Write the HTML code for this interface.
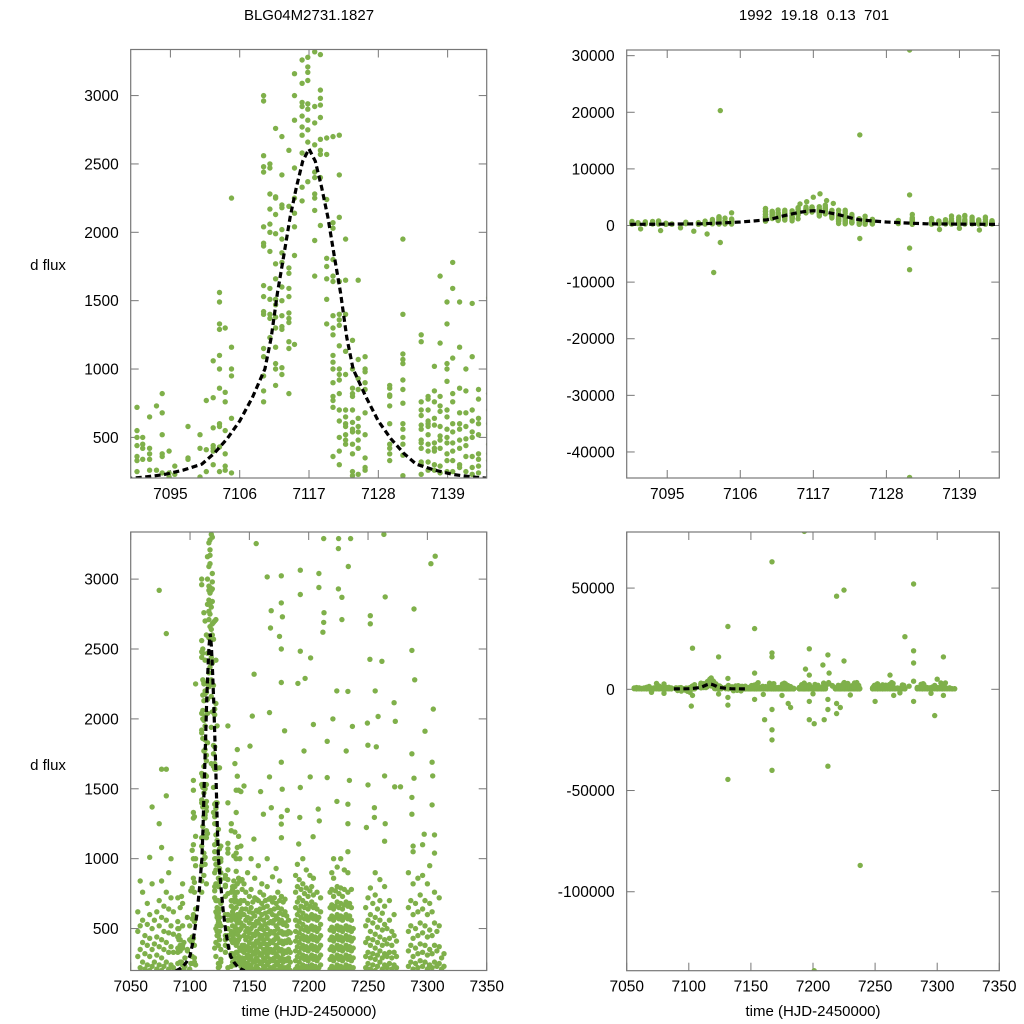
<!DOCTYPE html>
<html><head><meta charset="utf-8"><style>
html,body{margin:0;padding:0;background:#fff;width:1024px;height:1024px;overflow:hidden;}
svg{display:block;font-family:"Liberation Sans",Arial,sans-serif;}
</style></head><body>
<svg id="chart" width="1024" height="1024" viewBox="0 0 1024 1024" xmlns="http://www.w3.org/2000/svg">
<rect width="1024" height="1024" fill="#fff"/>
<text x="309" y="20" font-size="15" text-anchor="middle">BLG04M2731.1827</text>
<text x="814" y="20" font-size="15" text-anchor="middle" xml:space="preserve">1992  19.18  0.13  701</text>
<text x="48" y="270" font-size="15" text-anchor="middle">d flux</text>
<text x="48" y="770" font-size="15" text-anchor="middle">d flux</text>
<text x="309" y="1016" font-size="15" text-anchor="middle">time (HJD-2450000)</text>
<text x="813" y="1016" font-size="15" text-anchor="middle">time (HJD-2450000)</text>
<g id="plots"></g>
</svg>
<script>
// ---- model curve ----
const modelT = [7088,7091,7094,7097,7100,7102,7104,7106,7108,7110,7111,7112,7113,7114,7115,7116,7117,7118,7119,7120,7121,7122,7123,7124,7126,7128,7130,7132,7134,7137,7140,7143,7146];
const modelF = [198,210,228,260,305,385,490,620,790,1000,1230,1560,1830,2110,2330,2520,2610,2520,2330,2110,1830,1560,1230,1000,800,620,490,385,305,260,228,210,198];

// ---- observations: nights around the event ----
const peakNightT = [7089.7,7090.6,7091.7,7092.8,7093.7,7094.8,7095.7,7097.8,7099.7,7100.7,7101.8,7102.8,7103.7,7104.7,7109.8,7110.8,7111.7,7112.7,7113.8,7114.7,7115.9,7116.8,7117.9,7118.8,7119.8,7120.8,7121.8,7122.8,7123.9,7124.8,7125.9,7129.8,7131.9,7134.8,7135.9,7136.9,7137.8,7138.9,7139.8,7140.9,7141.9,7142.9,7143.9];
const peakNightF = [
[330,550,500,440,720,360,250],[500,450,420,340],[650,420,380,340,260],[730,260],[820,680,520,380,360,240],[400,210,240],[290,230],[580,350,340],[520,420,210],[770,410,250],
[1060,790,570,440,420,400,300],[1560,1490,1330,1290,1100,1000,860,600,580,430,250],[1300,830,760,550,380,290,260],[2250,1160,1000,950,640,240],
[3000,2960,2560,2480,2440,2040,1920,1900,1610,1530,1420,1400,1150,1090,950,840,760],[2500,2470,2280,2170,2060,2000,1860,1590,1510,1400,1370,1230],
[2760,2260,2250,2130,1990,1770,1660,1510,1470,1380,1300,1160,1040,1000,880],[2700,2420,2200,2180,2020,1950,1850,1780,1600,1500,1390,1310,1290,1010,960],
[2600,2190,1740,1700,1590,1530,1410,1370,1340,1200,1150,820],[3160,3000,2820,2470,2250,2140,2040,1830,1180],[3260,3090,2950,2920,2850,2770,2710,2580,2330,2230],
[3280,3210,3170,3110,2940,2900,2820,2750,2660,2370],[3320,2920,2800,2640,2440,2400,2280,2250,2160,1940,1680],[3300,3040,2980,2930,2840,2680,2600,2570,2400,2050],
[2690,2570,2240,1810,1750,1660,1510,1330],[2700,2070,2030,1800,1680,1640,1390,1300,1250,1100,1050,1000,900,800,770,720,360],
[2710,2420,2110,1640,1400,1360,1320,1170,1000,960,920,820,700,620,500,400,300],[1950,1650,1400,1130,960,700,650,600,580,520,480,450],
[1210,1000,860,820,800,700,610,560,540,450,380,250,220],[1650,1070,930,850,640,580,540,480,420,230],[1090,1000,980,900,850,680,520,350,280,260],
[880,860,810,800,730,600,450,420,380,330],[1950,1400,1110,1070,1040,920,850,750,600,560,500,450,370,220],[1250,1200,760,700,660,590,560,480,460,420,320,300,230],
[800,780,700,620,600,580,520,450,400,320,260],[1020,840,760,640,590,460,420,400,300,260],[1680,1190,800,730,690,580,510,480,420,290,240],
[1490,1330,1040,1000,910,700,650,560,500,460,380,330,250],[1780,1590,1080,820,760,600,540,460,400,330,250],[1490,1160,860,680,600,560,480,420,300,280],
[1000,840,680,580,490,440,360,250],[1480,1090,700,620,540,500,360,280,230],[850,780,640,600,520,380,340,290,240]];

// early season
const earlyNightT = [7056,7058,7060,7062,7064,7066,7068,7070,7072,7074,7076,7078,7080,7082,7084,7086];
const earlyNightF = [[300,480,620],[220,350,520,840],[260,400,560,760],[210,320,450],[240,380,530,680],[200,300,430,600,1010],[230,350,500,820,1370],[260,390,560],[210,310,440,620],[240,370,520,700,1250,2920],[200,290,420,580,840,1080,1640],[230,350,480,660],[260,400,560,760,1450,1640,2610],[210,330,470,640,900],[240,370,520,720,1000],[220,330,460,620]];

// second block
const blockANightT = [7145.5,7147,7148.5,7150,7151.5,7153,7154.5,7156,7157.5,7159,7160.5,7162,7163.5,7165,7166.5,7168,7169.5,7171,7172.5,7174,7175.5,7177,7178.5,7180,7181.5,7183,7184.5];
const blockANightF = [[210,260,330,380,450,520,600,700,820],[230,290,350,420,480,560,640,760],[200,250,310,370,440,500,580,680,900],[220,280,340,400,470,540,620,730],[240,300,360,430,500,570,650,780,1000],[210,270,330,390,460,530,610,690],[200,260,320,380,450,520,590,720,860],[230,290,350,410,480,550,630,710],[210,270,330,400,460,540,620,700,950],[250,310,370,430,500,570,640,760],[200,260,320,390,450,520,600,680,820],[230,290,350,420,490,560,650,740],[210,270,330,390,460,530,610,700],[240,300,360,430,500,580,660,800,1000],[200,260,330,390,460,540,620,710],[220,280,350,410,480,550,630,720],[210,270,330,400,470,540,600,690,870],[230,290,350,420,480,560,640,720],[200,260,320,380,450,520,590,680,930],[240,300,360,430,500,570,650,760],[210,270,340,400,470,540,610,700,840],[230,290,350,410,480,560,640,730,1150,1300],[200,260,320,390,460,530,600,690],[220,280,340,410,470,540,620,710],[210,270,330,400,460,520,590],[230,290,350,420,480,560],[200,260,330,400,470]];

const blockBNightT = [7189,7190.5,7192,7193.5,7195,7196.5,7198,7199.5,7201,7202.5,7204,7205.5,7207,7208.5,7210];
const blockBNightF = [[210,270,340,410,480,560,650,760,880],[230,300,370,440,520,600,690,800,960],[200,260,330,400,470,550,630,720,850],[220,290,360,430,500,580,660,780],[240,310,380,450,530,610,700,820,1000],[210,280,350,420,490,570,650,750],[230,300,370,440,510,590,680,790,920],[200,270,340,410,480,560,640,730],[220,290,360,430,500,580,660,770,880],[240,310,380,450,520,600,690,800],[210,280,350,420,490,570,650,740,860],[230,300,370,440,510,590,670],[200,270,340,410,480,560,640,760],[220,290,360,430,500,580],[240,310,380,450,530,620,720]];

const blockCNightT = [7218,7219.5,7221,7222.5,7224,7225.5,7227,7228.5,7230,7231.5,7233,7234.5,7236,7237.5];
const blockCNightF = [[210,280,350,420,490,570,650,760],[230,300,370,440,510,590,670,780,900],[200,270,340,410,480,560,640,730,860,1000],[220,290,360,430,500,580,660,770],[240,310,380,450,520,600,690,800,940],[210,280,350,420,490,570,650,750],[230,300,370,440,510,590,680,790,1000],[200,270,340,410,480,560,640,730],[220,290,360,430,500,580,670,780,920],[240,310,380,450,520,600,690],[210,280,350,420,490,570,660,760,900,1050],[230,300,370,440,510,590,680],[200,270,340,410,480,560,650,780],[220,290,360,430,500]];

const blockDNightT = [7248,7250,7252,7254,7256,7258,7260,7262,7264,7266,7268,7270,7272,7274];
const blockDNightF = [[220,300,400,520,650],[250,330,430,560,720],[210,290,380,480,600,790],[240,320,420,540,680],[200,280,360,460,580,740,900],[230,310,400,510,640],[260,340,440,560,700,850],[210,290,380,490,610],[240,320,420,530,660,800],[220,300,390,500],[250,330,430,560,700],[210,290,380,480],[240,330,450,600],[220,300,410]];

const blockENightT = [7284,7286,7288,7290,7292,7294,7296,7298,7300,7302,7304,7306,7308,7310,7312,7314];
const blockENightF = [[230,340,480,650,900],[260,380,520,700],[210,300,430,600,820,1050],[250,360,500,680],[220,320,450,620,860],[270,390,540,740],[230,330,470,640,880,1100],[260,380,520,700],[210,310,440,600,820],[240,350,490,680,950],[220,320,450,620],[260,380,540,760,1040],[230,340,480],[250,370,520,720],[210,290],[230,320]];

// scattered bright points
const scatterT = [7155.8,7165,7176.9,7192.9,7208.6,7212.6,7225.2,7235.3,7225,7263.4,7306.6,7303,7208.6,7192.9,7264.5,7225,7228,7168.4,7176.9,7212.9,7177.8,7212.6,7167.8,7251.9,7251.9,7228,7288.7,7175.4,7212,7233.4,7176.9,7192.9,7201.6,7251.6,7261.7,7287,7154,7176.9,7190.9,7197,7223.7,7233,7256,7289.3,7272,7305,7152.5,7167,7179.7,7204,7220.4,7236.8,7249.5,7258.5,7273,7298,7150.5,7176.9,7196,7215.6,7231.6,7249.9,7257,7287,7304,7145.5,7167,7177.7,7192.9,7201.3,7215.6,7234.3,7250,7264,7277.4,7288.7,7304.5,7159.5,7168.5,7182,7208.9,7223.8,7233,7255.4,7272.5,7287,7304,7161.8,7176.9,7192.5,7208,7233,7255.4,7264.5,7287,7297.3,7306,7153.8,7191.6,7203.7,7248.6,7264,7288];
const scatterF = [3254,3016,3024,3064,3040,3290,3290,3290,3218,3320,3164,3110,2940,2890,2873,2930,2870,2774,2830,2760,2730,2690,2650,2738,2680,2710,2786,2590,2620,3090,2500,2484,2436,2426,2412,2490,2320,2260,2254,2290,2200,2197,2200,2280,2116,2070,2020,2045,1915,1960,2000,1946,1970,2017,1983,1912,1805,1690,1770,1840,1770,1812,1800,1750,1690,1520,1585,1497,1509,1585,1580,1560,1528,1592,1514,1576,1592,1480,1365,1346,1270,1410,1390,1365,1514,1438,1385,1318,1247,1295,1355,1250,1295,1250,1318,1175,1170,1140,1105,1157,1223,1125,1090];

// large excursions (visible in full-range panels)
const outlierT = [7103,7102,7124,7131.5,7131.5,7131.5,7131.5,7131.5,7103,7101,7124,7116,7117,7118,7115,7119,7118.8,7120,7091,7094,7097,7099,7136,7139,7142,7153,7153,7153,7161,7167,7167,7167,7167,7167,7167,7167,7180,7182,7193,7194,7197,7197,7197,7197,7201,7201,7208,7209,7212,7212,7213,7212,7212,7219,7219,7219,7222,7225,7225,7238,7250,7262,7265,7274,7281,7281,7281,7281,7281,7298,7305,7305,7300,7070,7080,7160,7175,7200,7230,7270,7295];
const outlierF = [20300,-8300,16000,31000,-44500,5400,-4000,-7800,-3000,-1500,-2300,4200,5000,5600,3800,4400,3600,3900,-600,-900,-400,-1000,-700,-500,-800,30000,8000,-5000,-15000,63000,18000,16000,-20000,-25000,-40000,-10000,-7000,-9000,78000,10000,20000,7000,-15000,-6000,-17000,-139000,12000,-15000,17000,-38000,8000,-5000,-10000,46000,-12000,-7000,-9000,49000,14000,-87000,-6000,7000,-3000,26000,52000,19000,13000,4000,-6000,-13000,16000,-3000,5000,-1500,-2000,-2500,-3000,-2200,-2800,-1800,-2000];

// axis tick labels
const tickTopX = [7095,7106,7117,7128,7139];
const tickBotX = [7050,7100,7150,7200,7250,7300,7350];
const tickLeftY = [500,1000,1500,2000,2500,3000];
const tickTRY = [30000,20000,10000,0,-10000,-20000,-30000,-40000];
const tickBRY = [50000,0,-50000,-100000];

const panels = [
 {name:'top-left', x0:130.7,x1:486.7,y0:49.5,y1:478, tmin:7088.7,tmax:7145.2, fmin:203,fmax:3337, xt:tickTopX, yt:tickLeftY},
 {name:'top-right',x0:626.7,x1:999.3,y0:50,y1:478, tmin:7088.9,tmax:7145.0, fmin:-44600,fmax:31000, xt:tickTopX, yt:tickTRY},
 {name:'bottom-left',x0:130.7,x1:486.7,y0:532,y1:970.5, tmin:7050,tmax:7350, fmin:200,fmax:3337, xt:tickBotX, yt:tickLeftY},
 {name:'bottom-right',x0:626.7,x1:999.3,y0:532,y1:970.7, tmin:7050,tmax:7350, fmin:-139000,fmax:77700, xt:tickBotX, yt:tickBRY}
];

const NS='http://www.w3.org/2000/svg';
const root=document.getElementById('plots');
function mk(tag,attrs,parent){const e=document.createElementNS(NS,tag);for(const k in attrs)e.setAttribute(k,attrs[k]);parent.appendChild(e);return e;}

const obsT=[],obsF=[];
[[earlyNightT,earlyNightF],[peakNightT,peakNightF],[blockANightT,blockANightF],[blockBNightT,blockBNightF],[blockCNightT,blockCNightF],[blockDNightT,blockDNightF],[blockENightT,blockENightF]].forEach(([ts,fs])=>{
  ts.forEach((t,i)=>fs[i].forEach(f=>{obsT.push(t);obsF.push(f);}));
});
scatterT.forEach((t,i)=>{obsT.push(t);obsF.push(scatterF[i]);});
outlierT.forEach((t,i)=>{obsT.push(t);obsF.push(outlierF[i]);});

panels.forEach((p,pi)=>{
  const xs=t=>p.x0+(t-p.tmin)/(p.tmax-p.tmin)*(p.x1-p.x0);
  const ys=f=>p.y1-(f-p.fmin)/(p.fmax-p.fmin)*(p.y1-p.y0);
  const g=mk('g',{},root);
  
  
  const cp=mk('clipPath',{id:'clip'+pi},g);
  mk('rect',{x:p.x0,y:p.y0,width:p.x1-p.x0,height:p.y1-p.y0},cp);
  const ax=mk('g',{stroke:'#777','stroke-width':1},g);
  
  
  p.xt.forEach(v=>{const x=xs(v);
    mk('line',{x1:x,x2:x,y1:p.y1,y2:p.y1-8},ax);mk('line',{x1:x,x2:x,y1:p.y0,y2:p.y0+8},ax);
    const tx=mk('text',{x:x,y:p.y1+21,'font-size':15.5,'text-anchor':'middle',fill:'#000',stroke:'none'},g);
    
    
    tx.textContent=v;});
  p.yt.forEach(v=>{const y=ys(v);
    mk('line',{x1:p.x0,x2:p.x0+8,y1:y,y2:y},ax);mk('line',{x1:p.x1,x2:p.x1-8,y1:y,y2:y},ax);
    const tx=mk('text',{x:p.x0-12,y:y+5.5,'font-size':15.5,'text-anchor':'end',fill:'#000',stroke:'none'},g);
    
    
    tx.textContent=v;});
  const pts=mk('g',{'clip-path':'url(#clip'+pi+')',fill:'#7fb04a'},g);
  
  
  const padT=(p.tmax-p.tmin)*0.01, padF=(p.fmax-p.fmin)*0.01;
  obsT.forEach((t,i)=>{const f=obsF[i];
    if(t<p.tmin-padT||t>p.tmax+padT||f<p.fmin-padF||f>p.fmax+padF) return;
    const c=mk('circle',{cx:xs(t).toFixed(1),cy:ys(f).toFixed(1),r:2.7},pts);
    
    });
  const mt=[],mf=[];
  modelT.forEach((t,i)=>{if(t>=p.tmin-2&&t<=p.tmax+2){mt.push(t);mf.push(modelF[i]);}});
  const d=mt.map((t,i)=>(i?'L':'M')+xs(t).toFixed(1)+','+ys(mf[i]).toFixed(1)).join(' ');
  const m=mk('path',{d:d,fill:'none',stroke:'#000','stroke-width':3.2,'stroke-dasharray':'6,3.5','clip-path':'url(#clip'+pi+')'},g);
  
  
  const fr=mk('rect',{x:p.x0,y:p.y0,width:p.x1-p.x0,height:p.y1-p.y0,fill:'none',stroke:'#777','stroke-width':1.2},g);
  
  
});
</script>
</body></html>
